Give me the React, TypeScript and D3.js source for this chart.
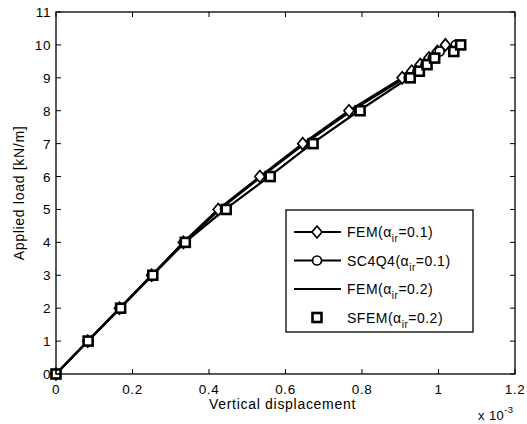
import * as d3 from "d3";

// load steps [kN/m]
const loads = [0, 1, 2, 3, 4, 5, 6, 7, 8, 9, 9.2, 9.4, 9.6, 9.8, 10];
// vertical displacement (x 1e-3)
const femA01 = [0, 0.083, 0.166, 0.25, 0.333, 0.424, 0.533, 0.645, 0.766, 0.905, 0.93, 0.952, 0.975, 0.997, 1.018];
const sc4q4A01 = [0, 0.084, 0.168, 0.252, 0.337, 0.442, 0.557, 0.669, 0.792, 0.922, 0.945, 0.966, 0.985, 1.003, 1.045];
const femA02 = [0, 0.083, 0.167, 0.251, 0.335, 0.428, 0.537, 0.65, 0.772, 0.912, 0.936, 0.958, 0.982, 1.004, 1.024];
const sfemA02 = [0, 0.084, 0.169, 0.253, 0.338, 0.445, 0.56, 0.672, 0.795, 0.926, 0.95, 0.97, 0.99, 1.04, 1.058];

const xTicks = [0, 0.2, 0.4, 0.6, 0.8, 1, 1.2];
const yTicks = [0, 1, 2, 3, 4, 5, 6, 7, 8, 9, 10, 11];

const width = 527;
const height = 424;
const marginLeft = 56;
const marginRight = 12;
const marginTop = 12;
const marginBottom = 50;
const font = "'Liberation Sans', Arial, sans-serif";

const x = d3.scaleLinear([0, 1.2], [marginLeft, width - marginRight]);
const y = d3.scaleLinear([0, 11], [height - marginBottom, marginTop]);

function Marker({ kind, cx, cy }: { kind: string; cx: number; cy: number }) {
  if (kind === "diamond")
    return <path d={`M${cx},${cy - 6}L${cx + 5},${cy}L${cx},${cy + 6}L${cx - 5},${cy}Z`} fill="white" stroke="black" strokeWidth={1.7} />;
  if (kind === "circle")
    return <circle cx={cx} cy={cy} r={4.5} fill="white" stroke="black" strokeWidth={1.7} />;
  if (kind === "square")
    return <rect x={cx - 4.5} y={cy - 4.5} width={9} height={9} fill="white" stroke="black" strokeWidth={2.6} />;
  return null;
}

const series = [
  { name: "FEM", a: "0.1", xs: femA01, marker: "diamond", line: true },
  { name: "SC4Q4", a: "0.1", xs: sc4q4A01, marker: "circle", line: true },
  { name: "FEM", a: "0.2", xs: femA02, marker: "none", line: true },
  { name: "SFEM", a: "0.2", xs: sfemA02, marker: "square", line: false },
];

export default function App() {
  const line = d3.line<number>((d) => x(d), (_, i) => y(loads[i]));
  const x0 = x.range()[0], x1 = x.range()[1];
  const y0 = y.range()[0], y1 = y.range()[1];
  const lg = { left: 286, top: 210, right: 473, bottom: 332 };
  return (
    <svg width={width} height={height} style={{ position: "absolute", left: 0, top: 0, background: "white" }} fontFamily={font}>
      <rect x={0} y={0} width={width} height={height} fill="white" />
      {/* data */}
      {series.map((s, k) =>
        s.line ? <path key={"l" + k} d={line(s.xs) ?? ""} fill="none" stroke="black" strokeWidth={2.2} /> : null
      )}
      {series.map((s, k) =>
        s.xs.map((v, i) => <Marker key={"m" + k + "-" + i} kind={s.marker} cx={x(v)} cy={y(loads[i])} />)
      )}
      {/* box + ticks */}
      <rect x={x0} y={y1} width={x1 - x0} height={y0 - y1} fill="none" stroke="black" strokeWidth={1.3} />
      {xTicks.map((t) => (
        <g key={"xt" + t}>
          <line x1={x(t)} x2={x(t)} y1={y0} y2={y0 - 5} stroke="black" />
          <line x1={x(t)} x2={x(t)} y1={y1} y2={y1 + 5} stroke="black" />
          <text x={x(t)} y={y0 + 20} textAnchor="middle" fontSize={13.5} letterSpacing={0.6}>{t}</text>
        </g>
      ))}
      {yTicks.map((t) => (
        <g key={"yt" + t}>
          <line x1={x0} x2={x0 + 5} y1={y(t)} y2={y(t)} stroke="black" />
          <line x1={x1} x2={x1 - 5} y1={y(t)} y2={y(t)} stroke="black" />
          <text x={x0 - 5} y={y(t) + 5} textAnchor="end" fontSize={13.5} letterSpacing={0.6}>{t}</text>
        </g>
      ))}
      <text x={(x0 + x1) / 2 - 3} y={y0 + 35} textAnchor="middle" fontSize={14} letterSpacing={0.7}>Vertical displacement</text>
      <text x={478} y={420} fontSize={13} letterSpacing={0.4}>x 10<tspan dy={-7} fontSize={9.5}>-3</tspan></text>
      <text transform={`translate(24,${(y0 + y1) / 2}) rotate(-90)`} textAnchor="middle" fontSize={14} letterSpacing={0.7}>Applied load [kN/m]</text>
      {/* legend */}
      <rect x={lg.left} y={lg.top} width={lg.right - lg.left} height={lg.bottom - lg.top} fill="white" stroke="black" strokeWidth={1.3} />
      {series.map((s, k) => {
        const cy = 232 + k * 28.5;
        return (
          <g key={"lg" + k}>
            {s.line && <line x1={294} x2={341} y1={cy} y2={cy} stroke="black" strokeWidth={2.2} />}
            <Marker kind={s.marker} cx={317} cy={cy} />
            <text x={347} y={cy + 5} fontSize={14} letterSpacing={0.5}>
              {s.name}(α<tspan dy={5} fontSize={10}>ir</tspan><tspan dy={-5}>={s.a})</tspan>
            </text>
          </g>
        );
      })}
    </svg>
  );
}
